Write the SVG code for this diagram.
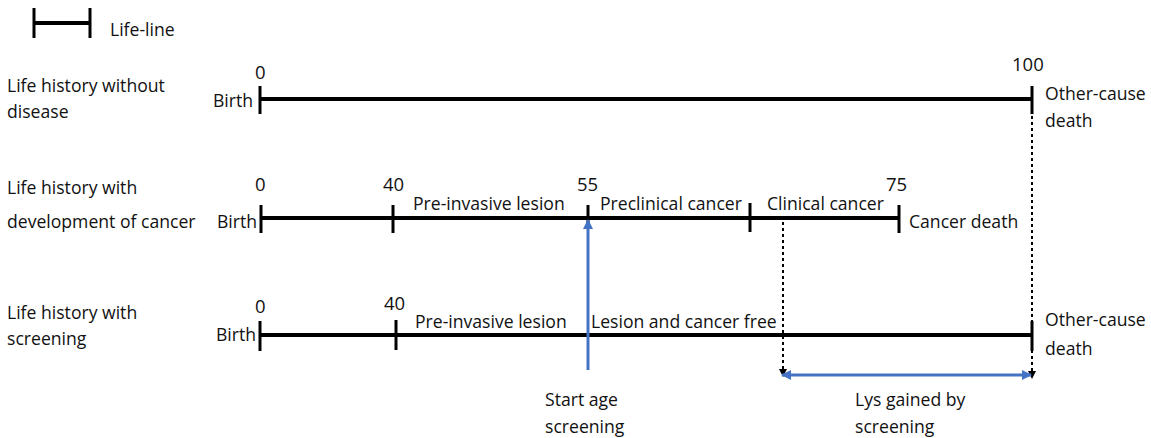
<svg xmlns="http://www.w3.org/2000/svg" width="1151" height="438" viewBox="0 0 1151 438">
<style>
text{font-family:"Open Sans","Liberation Sans",sans-serif;font-size:17.6px;fill:#111;}
.num{font-size:18.5px;}
.life{stroke:#000;stroke-width:4;fill:none;}
.tick{stroke:#000;stroke-width:3;}
.dot{stroke:#000;stroke-width:2;stroke-dasharray:3,3;fill:none;}
.blue{stroke:#4472C4;stroke-width:3;fill:none;}
</style>
<defs>
<marker id="ab" markerWidth="8" markerHeight="8" refX="7" refY="4" orient="auto" markerUnits="userSpaceOnUse"><path d="M0,0L8,4L0,8z" fill="#000"/></marker>
<marker id="aBlue" viewBox="0 0 10 10" markerWidth="10" markerHeight="10" refX="9" refY="5" orient="auto-start-reverse" markerUnits="userSpaceOnUse"><path d="M0,0L10,5L0,10z" fill="#4472C4"/></marker>
</defs>
<rect width="1151" height="438" fill="#fff"/>
<g id="legend">
<line class="life" x1="34" y1="23" x2="90" y2="23"/>
<line class="tick" x1="34" y1="8" x2="34" y2="38"/>
<line class="tick" x1="90" y1="8" x2="90" y2="38"/>
<text x="110" y="36">Life-line</text>
</g>
<g id="row1">
<text x="7" y="92">Life history without</text>
<text x="7" y="118">disease</text>
<line class="life" x1="260" y1="99" x2="1032" y2="99"/>
<line class="tick" x1="260" y1="86" x2="260" y2="114"/>
<line class="tick" x1="1032" y1="86" x2="1032" y2="114"/>
<text class="num" x="255" y="79">0</text>
<text class="num" x="1012" y="71">100</text>
<text x="213" y="107">Birth</text>
<text x="1045" y="100">Other-cause</text>
<text x="1045" y="127">death</text>
</g>
<g id="row2">
<text x="7" y="194">Life history with</text>
<text x="7" y="228">development of cancer</text>
<line class="life" x1="261" y1="218" x2="900" y2="218"/>
<line class="tick" x1="261" y1="205" x2="261" y2="233"/>
<line class="tick" x1="393" y1="205" x2="393" y2="233"/>
<line class="tick" x1="588" y1="205" x2="588" y2="228"/>
<line class="tick" x1="750" y1="203" x2="750" y2="232"/>
<line class="tick" x1="899" y1="205" x2="899" y2="233"/>
<text class="num" x="255" y="191">0</text>
<text class="num" x="383" y="191">40</text>
<text class="num" x="577" y="191">55</text>
<text class="num" x="886" y="191">75</text>
<text x="217" y="228">Birth</text>
<text x="413" y="210">Pre-invasive lesion</text>
<text x="600" y="210">Preclinical cancer</text>
<text x="767" y="210">Clinical cancer</text>
<text x="909" y="228">Cancer death</text>
</g>
<g id="row3">
<text x="7" y="319">Life history with</text>
<text x="7" y="345">screening</text>
<line class="life" x1="260" y1="335" x2="1032" y2="335"/>
<line class="tick" x1="260" y1="321" x2="260" y2="351"/>
<line class="tick" x1="396" y1="320" x2="396" y2="350"/>
<line class="tick" x1="1032" y1="321" x2="1032" y2="351"/>
<text class="num" x="255" y="313">0</text>
<text class="num" x="384" y="310">40</text>
<text x="216" y="341">Birth</text>
<text x="415" y="328">Pre-invasive lesion</text>
<text x="591" y="328">Lesion and cancer free</text>
<text x="1045" y="326">Other-cause</text>
<text x="1045" y="355">death</text>
</g>
<g id="connectors">
<line class="blue" x1="588" y1="370" x2="588" y2="220" marker-end="url(#aBlue)"/>
<line class="dot" x1="783" y1="222" x2="783" y2="376" marker-end="url(#ab)"/>
<line class="dot" x1="1032" y1="104" x2="1032" y2="378" marker-end="url(#ab)"/>
<line class="blue" x1="782" y1="375" x2="1031" y2="375" marker-start="url(#aBlue)" marker-end="url(#aBlue)"/>
</g>
<g id="notes">
<text x="545" y="406">Start age</text>
<text x="545" y="433">screening</text>
<text x="855" y="406">Lys gained by</text>
<text x="855" y="433">screening</text>
</g>
</svg>
